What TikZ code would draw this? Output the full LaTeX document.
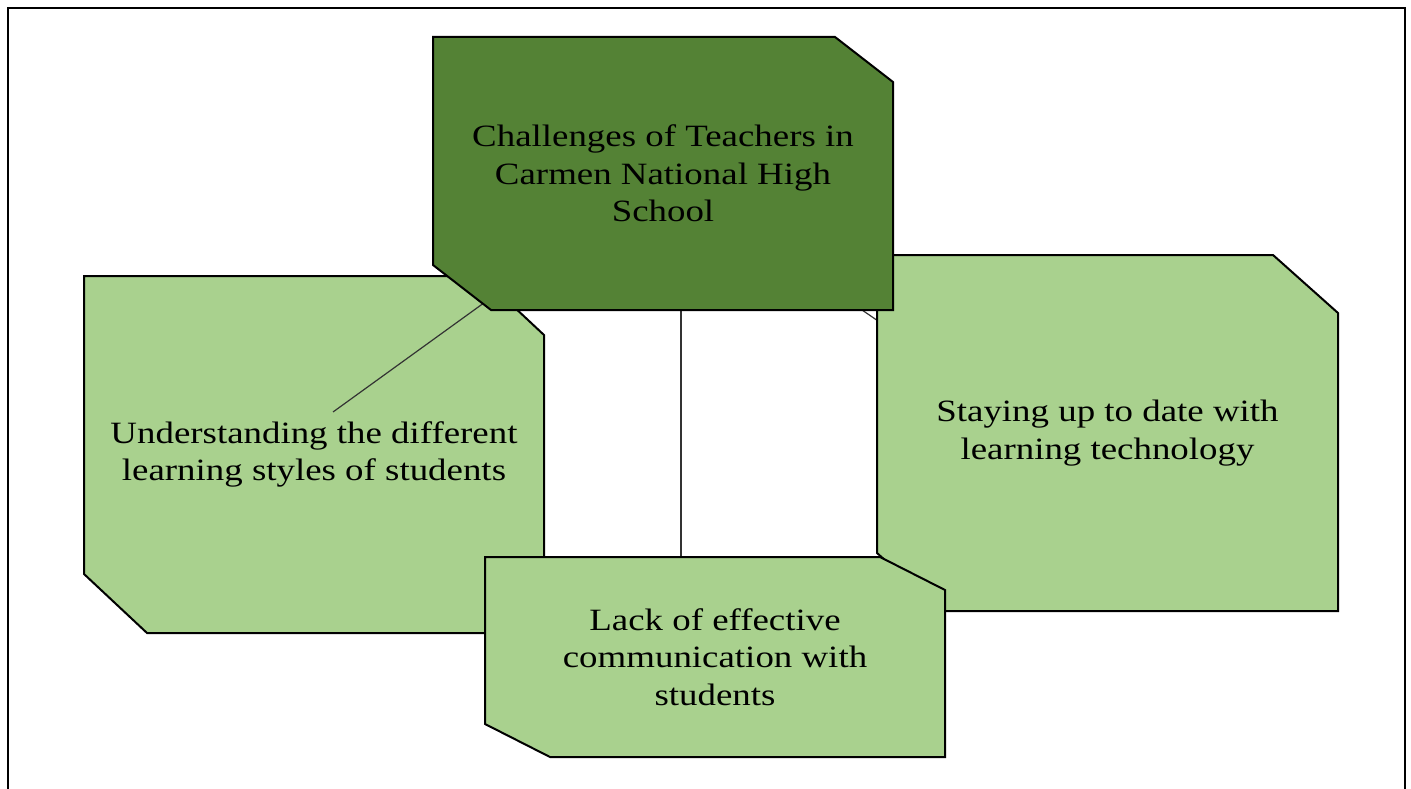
\documentclass[tikz,border=0pt]{standalone}
\usepackage{fontspec}
\setmainfont{Liberation Serif}[FakeStretch=1.19]
\definecolor{darkleaf}{RGB}{84,130,53}
\definecolor{lightleaf}{RGB}{169,209,142}
\tikzstyle{box}=[rectangle, inner sep=0pt, outer sep=0pt, align=center,
  font=\fontsize{31}{37.5}\selectfont]
\tikzstyle{outline}=[draw=black, line width=2pt, line join=miter]
\tikzstyle{link}=[draw=black!80, line width=1.2pt]
\pgfdeclarelayer{back}
\pgfsetlayers{back,main}
% box with cut top right and bottom left corners: node, cut x, cut y, colour
\newcommand{\chamferbox}[4]{%
  \filldraw[outline, fill=#4] (#1.north west) -- ([xshift=-#2]#1.north east)
    -- ([yshift=-#3]#1.north east) -- (#1.south east)
    -- ([xshift=#2]#1.south west) -- ([yshift=#3]#1.south west) -- cycle;}

\begin{document}
\begin{tikzpicture}[x=1pt,y=-1pt]
  \useasboundingbox (0,0) rectangle (1411,789);
  % frame, open at the bottom
  \draw[line width=2.5pt] (8,789) -- (8,8) -- (1405,8) -- (1405,789);
  % free ends of the links
  \coordinate (styles end) at (333,412);
  \coordinate (tech end) at (1107,478);
  \coordinate (comm end) at (681,600);
    % the texts sit on top of everything
    \node[box, minimum width=460, minimum height=273] (top) at (663,173.5)
          {Challenges of Teachers in\\Carmen National High\\School};
    \node[box, minimum width=460, minimum height=357] (styles) at (314,454.5)
          {Understanding the different\\learning styles of students};
    \node[box, minimum width=461, minimum height=356] (tech) at (1107.5,433)
          {Staying up to date with\\learning technology};
    \node[box, minimum width=460, minimum height=200] (comm) at (715,657)
          {Lack of effective\\communication with\\students};
    % shapes and links, back to front
    \begin{pgfonlayer}{back}
      \chamferbox{styles}{63pt}{59pt}{lightleaf}
      \draw[link] (top.center) -- (styles end);
      \draw[link] (top.south -| comm end) -- (comm end);
      \draw[link] (top.center) -- (tech end);
      \chamferbox{tech}{65pt}{58pt}{lightleaf}
      \chamferbox{top}{58pt}{45pt}{darkleaf}
      \chamferbox{comm}{65pt}{33pt}{lightleaf}
    \end{pgfonlayer}
\end{tikzpicture}
\end{document}
